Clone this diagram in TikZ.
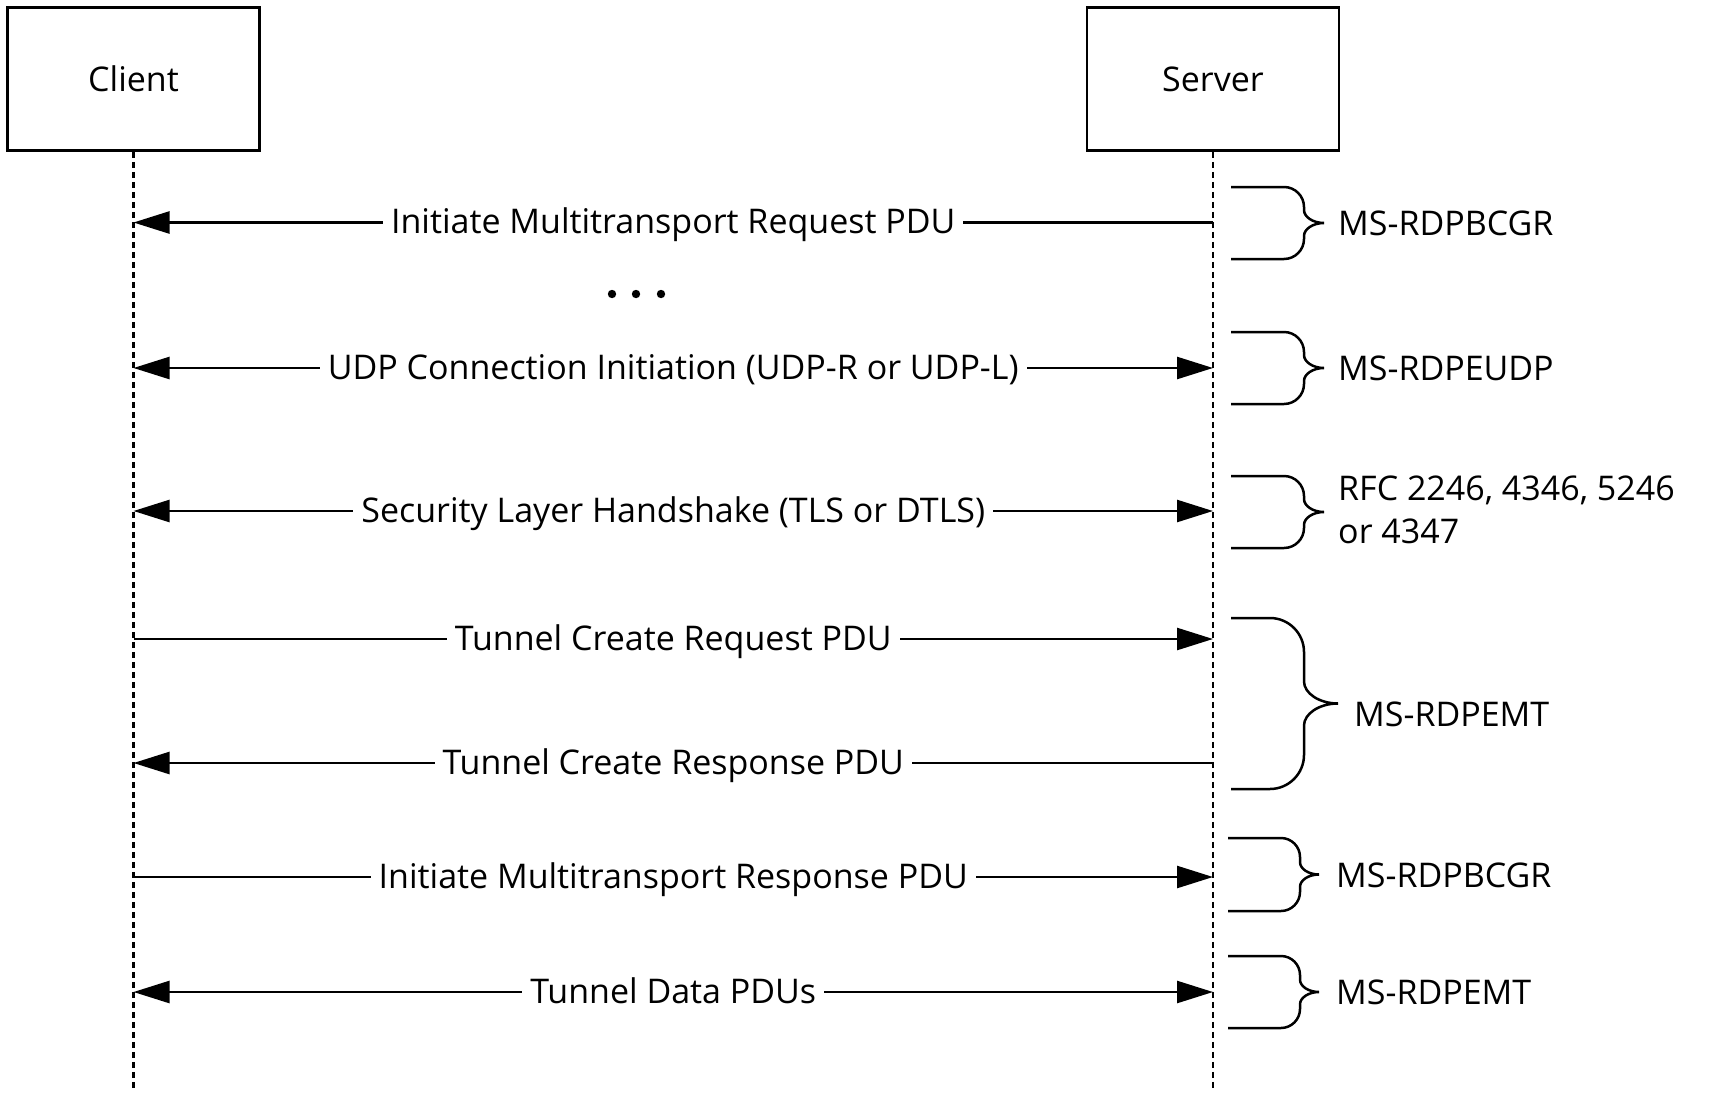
\documentclass[tikz,border=0pt]{standalone}
\usepackage{fontspec}
\setmainfont{Open Sans}
\usetikzlibrary{arrows.meta,positioning}

\newcommand{\specbrace}[5]{%
  \draw[bracket] (#1,#2) -- ({#4-#5},#2)
    .. controls ({#4-0.45*#5},#2) and (#4,{#2+0.45*#5}) .. (#4,{#2+#5})
    -- (#4,{(#2+#3)/2-0.65*#5})
    .. controls (#4,{(#2+#3)/2-0.3*#5}) and ({#4+0.45*#5},{(#2+#3)/2}) .. ({#4+#5},{(#2+#3)/2})
    .. controls ({#4+0.45*#5},{(#2+#3)/2}) and (#4,{(#2+#3)/2+0.3*#5}) .. (#4,{(#2+#3)/2+0.65*#5})
    -- (#4,{#3-#5})
    .. controls (#4,{#3-0.45*#5}) and ({#4-0.45*#5},#3) .. ({#4-#5},#3)
    -- (#1,#3);
}

\tikzset{
  >={Triangle[length=36pt,width=22pt]},
  party/.style={draw, line width=2.5pt, minimum width=252pt, minimum height=143pt,
    font=\fontsize{34}{42}\selectfont},
  lifeline/.style={line width=2.2pt, dash pattern=on 6pt off 4pt},
  msg/.style={line width=2.5pt},
  msglabel/.style={fill=white, inner xsep=8pt, inner ysep=0pt, text height=24.5pt,
    text depth=2.5pt, font=\fontsize{34}{42}\selectfont},
  bracket/.style={line width=2.5pt},
  speclabel/.style={anchor=west, inner sep=0pt, text height=24pt,
    text depth=0pt, font=\fontsize{34}{43}\selectfont}
}

\begin{document}
\begin{tikzpicture}[x=1pt,y=-1pt]
  \useasboundingbox (0,0) rectangle (1719,1095);

  \node[party] (client) at (133.5,79) {Client};
  \node[party] (server) at (1213,79) {Server};

  \coordinate (clientend) at (133.5,1088);
  \coordinate (serverend) at (1213,1088);
  \draw[lifeline] (client.south) -- (clientend);
  \draw[lifeline] (server.south) -- (serverend);

  % message ends on both lifelines
  \coordinate (c1) at (133.5,222.5); \coordinate (s1) at (1213,222.5);
  \coordinate (c2) at (133.5,368);   \coordinate (s2) at (1213,368);
  \coordinate (c3) at (133.5,511);   \coordinate (s3) at (1213,511);
  \coordinate (c4) at (133.5,639);   \coordinate (s4) at (1213,639);
  \coordinate (c5) at (133.5,763);   \coordinate (s5) at (1213,763);
  \coordinate (c6) at (133.5,877);   \coordinate (s6) at (1213,877);
  \coordinate (c7) at (133.5,992);   \coordinate (s7) at (1213,992);

  \draw[msg,->] (s1) -- node[msglabel]{Initiate Multitransport Request PDU} (c1);
  \fill (612,294) circle (4.2);
  \fill (636,294) circle (4.2);
  \fill (661,294) circle (4.2);
  \draw[msg,<->] (c2) -- node[msglabel]{UDP Connection Initiation (UDP-R or UDP-L)} (s2);
  \draw[msg,<->] (c3) -- node[msglabel]{Security Layer Handshake (TLS or DTLS)} (s3);
  \draw[msg,->] (c4) -- node[msglabel]{Tunnel Create Request PDU} (s4);
  \draw[msg,->] (s5) -- node[msglabel]{Tunnel Create Response PDU} (c5);
  \draw[msg,->] (c6) -- node[msglabel]{Initiate Multitransport Response PDU} (s6);
  \draw[msg,<->] (c7) -- node[msglabel]{Tunnel Data PDUs} (s7);

  % protocol braces
  \specbrace{1231}{187}{259}{1304}{20}
  \node[speclabel] (spec1) at (1338,223) {MS-RDPBCGR};
  \specbrace{1231}{332}{404}{1304}{20}
  \node[speclabel] (spec2) at (1338,368) {MS-RDPEUDP};
  \specbrace{1231}{476}{548}{1304}{20}
  \node[anchor=base west, inner sep=0pt, align=left, font=\fontsize{34}{43}\selectfont]
    (spec3) at (1338,543) {RFC 2246, 4346, 5246\\or 4347};
  \specbrace{1231}{618}{789}{1304}{34}
  \node[speclabel] (spec4) at (1354,714) {MS-RDPEMT};
  \specbrace{1228}{838}{911}{1300}{19}
  \node[speclabel] (spec5) at (1336,875) {MS-RDPBCGR};
  \specbrace{1228}{956}{1028}{1300}{19}
  \node[speclabel] (spec6) at (1336,992) {MS-RDPEMT};
\end{tikzpicture}
\end{document}
